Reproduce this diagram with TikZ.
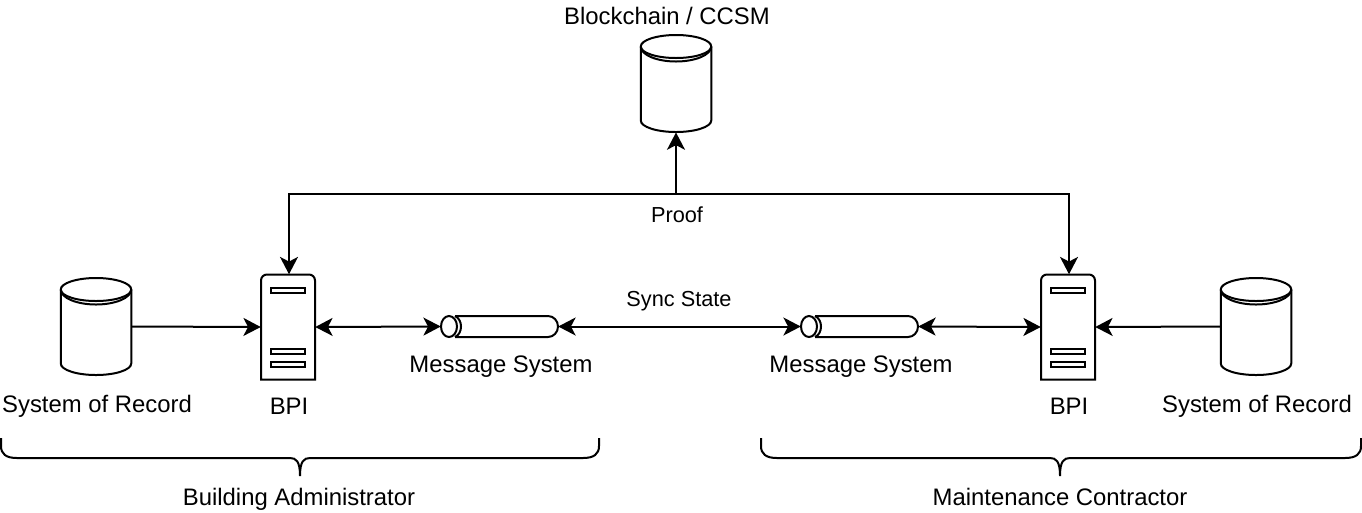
\documentclass[tikz,border=0pt]{standalone}
\usepackage{fontspec}
\setmainfont{Liberation Sans}
\usetikzlibrary{arrows.meta}

% one unit is one pixel of the reference, y runs downwards
\newcommand{\datastore}[3]{
        \node[storebox] (#1) at (#2,#3) {};
        \begin{scope}[shift={(#2,#3)}]
                \draw[shapeline] (-35.25,-37) arc[start angle=180,end angle=540,x radius=35.25,y radius=11.5];
                \draw[shapeline] (-35.25,-37) -- (-35.25,37) arc[start angle=180,end angle=0,x radius=35.25,y radius=11.5] -- (35.25,-37);
                \draw[shapeline] (-35.25,-37) arc[start angle=180,end angle=0,x radius=35.25,y radius=15];
        \end{scope}
}
\newcommand{\bpiserver}[3]{
        \node[serverbox] (#1) at (#2,#3) {};
        \begin{scope}[shift={(#2,#3)}]
                \draw[shapeline] (-27,52.5) -- (-27,-46.5) arc[start angle=180,end angle=270,radius=6]
                        -- (21,-52.5) arc[start angle=270,end angle=360,radius=6] -- (27,52.5) -- cycle;
                \foreach \y in {-36.5,24.5,37.5}
                        \draw[barline] (-17,\y-2.5) rectangle (17,\y+2.5);
        \end{scope}
}
\newcommand{\msgqueue}[3]{
        \node[queuebox] (#1) at (#2,#3) {};
        \begin{scope}[shift={(#2,#3)}]
                \draw[shapeline] (-50.5,0) ellipse[x radius=8,y radius=10.5];
                \draw[shapeline] (-44.5,-10.5) .. controls (-36.5,-7) and (-36.5,7) .. (-44.5,10.5);
                \draw[shapeline] (-44.5,-10.5) -- (48.5,-10.5) arc[start angle=270,end angle=450,x radius=10,y radius=10.5] -- (-44.5,10.5);
        \end{scope}
}
\newcommand{\partybrace}[3]{
        \draw[shapeline] (#1,438) -- (#1,446) .. controls (#1,454) and ({#1+5},458) .. ({#1+16},458)
                -- ({#2-10},458) .. controls ({#2-4},458) and (#2,461) .. (#2,476)
                (#3,438) -- (#3,446) .. controls (#3,454) and ({#3-5},458) .. ({#3-16},458)
                -- ({#2+10},458) .. controls ({#2+4},458) and (#2,461) .. (#2,476);
}

\begin{document}
\begin{tikzpicture}[x=0.75pt,y=-0.75pt]
        \tikzset{shapeline/.style = {line width=1.5pt,black}}
        \tikzset{barline/.style = {line width=1.1pt,black}}
        \tikzset{storebox/.style = {minimum width=52.9pt,minimum height=73pt,inner sep=0pt}}
        \tikzset{serverbox/.style = {minimum width=40.5pt,minimum height=78.75pt,inner sep=0pt}}
        \tikzset{queuebox/.style = {minimum width=87.75pt,minimum height=15.75pt,inner sep=0pt}}
        \tikzset{edge/.style = {-{Stealth[length=13pt,width=13.5pt,inset=3.5pt]},line width=1.5pt}}
        \tikzset{both/.style = {{Stealth[length=13pt,width=13.5pt,inset=3.5pt]}-{Stealth[length=13pt,width=13.5pt,inset=3.5pt]},line width=1.5pt}}
        \tikzset{bigtext/.style = {font=\fontsize{17.9pt}{21pt}\selectfont,inner sep=0pt,anchor=base}}
        \tikzset{smalltext/.style = {font=\fontsize{16.3pt}{19pt}\selectfont,inner sep=0pt,anchor=base}}
        \useasboundingbox (0,0) rectangle (1362,512);
        % shapes
        \datastore{chain}{676}{83.5}
        \datastore{recordleft}{96}{326.5}
        \datastore{recordright}{1256}{326.5}
        \bpiserver{bpileft}{288}{327}
        \bpiserver{bpiright}{1068}{327}
        \msgqueue{msgleft}{499.5}{326.5}
        \msgqueue{msgright}{859.5}{326.5}
        \coordinate (proofjoin) at (676,194);
        % labels
        \node[bigtext] (chainlabel) at (667,24) {Blockchain / CCSM};
        \node[bigtext] (recordleftlabel) at (97,412) {System of Record};
        \node[bigtext] (recordrightlabel) at (1257,412) {System of Record};
        \node[bigtext] (bpileftlabel) at (289,414) {BPI};
        \node[bigtext] (bpirightlabel) at (1069,414) {BPI};
        \node[bigtext] (msgleftlabel) at (501,372) {Message System};
        \node[bigtext] (msgrightlabel) at (861,372) {Message System};
        \node[bigtext] (adminlabel) at (299,505) {Building Administrator};
        \node[bigtext] (contractlabel) at (1060,505) {Maintenance Contractor};
        \node[smalltext] (prooflabel) at (677,222) {Proof};
        \node[smalltext] (synclabel) at (679,306) {Sync State};
        % edges
        \draw[edge] (recordleft.east) -- (bpileft.west);
        \draw[edge] (recordright.west) -- (bpiright.east);
        \draw[both] (bpileft.east) -- (msgleft.west);
        \draw[both] (msgleft.east) -- (msgright.west);
        \draw[both] (msgright.east) -- (bpiright.west);
        \draw[both] ([xshift=0.75pt]bpileft.north) |- (proofjoin) -| ([xshift=0.75pt]bpiright.north);
        \draw[edge] (proofjoin) -- (chain.south);
        % braces
        \partybrace{1}{300}{599}
        \partybrace{761}{1060}{1361}
\end{tikzpicture}
\end{document}
